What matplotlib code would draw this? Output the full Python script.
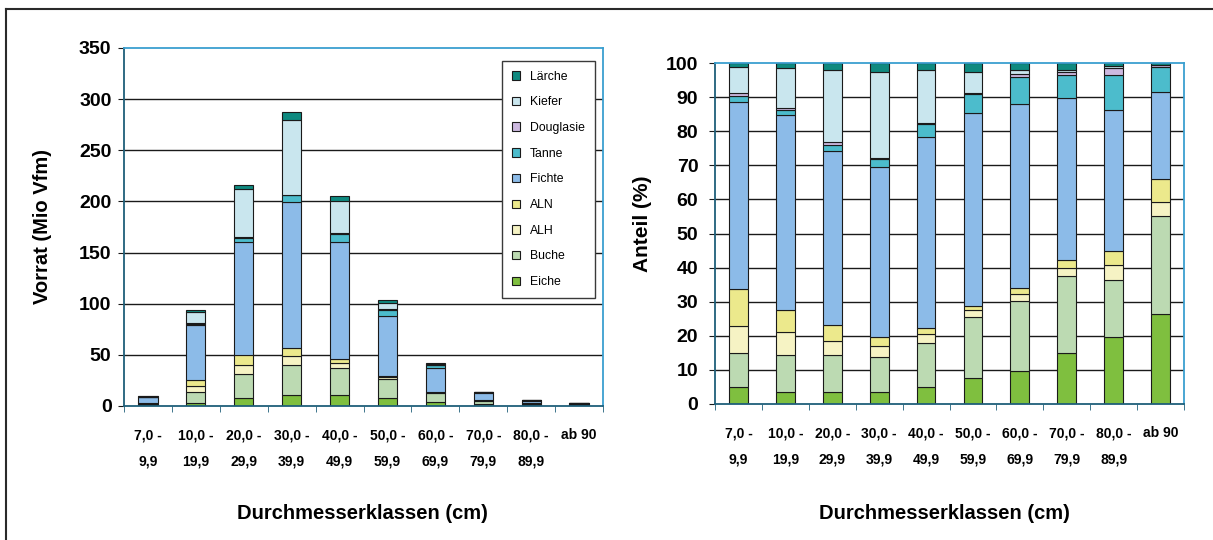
import matplotlib
matplotlib.use("Agg")
import matplotlib.pyplot as plt
import numpy as np
from matplotlib.lines import Line2D
from matplotlib.patches import Patch

plt.rcParams['font.family'] = ['Liberation Sans', 'DejaVu Sans']

# ---------------- data ----------------
categories = ["7,0 -\n9,9", "10,0 -\n19,9", "20,0 -\n29,9", "30,0 -\n39,9", "40,0 -\n49,9",
              "50,0 -\n59,9", "60,0 -\n69,9", "70,0 -\n79,9", "80,0 -\n89,9", "ab 90"]
species = ["Eiche", "Buche", "ALH", "ALN", "Fichte", "Tanne", "Douglasie", "Kiefer", "Lärche"]

# total stock per diameter class (Mio Vfm)
totals = [9.8, 93.5, 216, 287, 205, 103.6, 41.8, 14, 5.9, 3.0]

# share of each species per diameter class (%)
eiche     = [5.1, 3.6, 3.6, 3.6, 5.1, 7.6, 9.7, 14.9, 19.7, 26.3]
buche     = [9.8, 10.9, 10.9, 10.2, 12.8, 18.0, 20.5, 22.7, 16.7, 28.7]
alh       = [8.1, 6.5, 4.1, 3.1, 2.5, 1.9, 2.0, 2.4, 4.3, 4.2]
aln       = [10.6, 6.5, 4.5, 2.8, 1.9, 1.2, 1.7, 2.3, 4.2, 6.9]
fichte    = [55.1, 57.3, 51.0, 49.8, 56.1, 56.7, 54.1, 47.4, 41.3, 25.5]
tanne     = [1.5, 1.4, 1.8, 2.3, 3.6, 5.5, 7.8, 6.7, 10.2, 7.1]
douglasie = [1.0, 0.7, 0.8, 0.2, 0.3, 0.4, 1.0, 0.9, 2.1, 0.6]
kiefer    = [7.5, 11.6, 21.3, 25.3, 15.7, 6.0, 1.1, 0.7, 0.5, 0.2]
laerche   = [1.3, 1.5, 2.0, 2.7, 2.0, 2.7, 2.1, 2.0, 1.0, 0.5]

shares = [eiche, buche, alh, aln, fichte, tanne, douglasie, kiefer, laerche]
colors = ["#7fbf3f", "#bcdab2", "#f6f3c4", "#ece98c", "#8cbbe8",
          "#4cbccc", "#cdb9e0", "#c9e6ee", "#0f8a80"]

# ---------------- figure ----------------
W, H = 1213, 540
fig = plt.figure(figsize=(W / 100, H / 100), dpi=100)

def px_axes(x0, y0, x1, y1):
    return fig.add_axes([x0 / W, 1 - y1 / H, (x1 - x0) / W, (y1 - y0) / H])

axL = px_axes(124, 48, 603, 406)
axR = px_axes(715, 63, 1184, 404)

x = np.arange(len(categories))
bw = 0.40

def style_axes(ax, ylim, yticks, grid_vals):
    ax.set_xlim(-0.5, len(categories) - 0.5)
    ax.set_ylim(*ylim)
    for g in grid_vals:
        ax.axhline(g, color="#1a1a1a", lw=1.0, zorder=0.5)
    ax.set_yticks(yticks)
    ax.set_yticklabels([str(v) for v in yticks], fontsize=14, fontweight="bold")
    ax.set_xticks(np.arange(len(categories) + 1) - 0.5, minor=True)
    ax.set_xticks(x)
    ax.set_xticklabels(categories, fontsize=10, fontweight="bold", linespacing=2.15)
    ax.tick_params(axis="x", which="major", length=0, pad=16)
    ax.tick_params(axis="x", which="minor", length=4, color="#1f5f7a", direction="out")
    ax.tick_params(axis="y", length=4, color="#1a1a1a", direction="out", pad=5)
    ax.spines["left"].set_color("#1f5f7a")
    ax.spines["bottom"].set_color("#1f5f7a")
    ax.spines["top"].set_color("#3a9fd0")
    ax.spines["right"].set_color("#3a9fd0")
    for s in ax.spines.values():
        s.set_linewidth(1.3)

# left: absolute values
bottom = np.zeros(len(categories))
for sp, sh, c in zip(species, shares, colors):
    vals = np.array(totals) * np.array(sh) / 100.0
    axL.bar(x, vals, bw, bottom=bottom, color=c, edgecolor="#1a1a1a", linewidth=0.8, zorder=2, label=sp)
    bottom += vals

style_axes(axL, (0, 350), [0, 50, 100, 150, 200, 250, 300, 350], [50, 100, 150, 200, 250, 300])
axL.set_ylabel("Vorrat (Mio Vfm)", fontsize=14.5, fontweight="bold")
axL.yaxis.set_label_coords(-0.15, 0.5)
axL.set_xlabel("Durchmesserklassen (cm)", fontsize=14.5, fontweight="bold")
axL.xaxis.set_label_coords(0.497, -0.30)
axL.xaxis.label.set_va("center")

handles = [Patch(facecolor=c, edgecolor="#1a1a1a", linewidth=0.8) for c in colors][::-1]
leg = axL.legend(handles, species[::-1], loc="upper right", bbox_to_anchor=(0.983, 0.964),
                 fontsize=8.8, frameon=True, fancybox=False, framealpha=1, edgecolor="#3a3a3a",
                 handlelength=0.7, handleheight=0.7, handletextpad=0.8, labelspacing=1.12,
                 borderpad=0.8, borderaxespad=0)
leg.get_frame().set_linewidth(1.0)
leg.set_zorder(5)

# right: percentages
bottom = np.zeros(len(categories))
for sp, sh, c in zip(species, shares, colors):
    vals = np.array(sh, dtype=float)
    axR.bar(x, vals, bw, bottom=bottom, color=c, edgecolor="#1a1a1a", linewidth=0.8, zorder=2)
    bottom += vals

style_axes(axR, (0, 100), list(range(0, 101, 10)), list(range(10, 100, 10)))
axR.tick_params(axis="y", pad=8)
axR.set_ylabel("Anteil (%)", fontsize=15, fontweight="bold")
axR.yaxis.set_label_coords(-0.134, 0.53)
axR.set_xlabel("Durchmesserklassen (cm)", fontsize=14.5, fontweight="bold")
axR.xaxis.set_label_coords(0.49, -0.32)
axR.xaxis.label.set_va("center")

# outer frame (top and left edges visible)
fig.add_artist(Line2D([6 / W, 1.0], [1 - 9 / H, 1 - 9 / H], transform=fig.transFigure,
                      color="#2a2a2a", lw=1.5))
fig.add_artist(Line2D([6 / W, 6 / W], [0.0, 1 - 9 / H], transform=fig.transFigure,
                      color="#2a2a2a", lw=1.5))

fig.savefig("out.png", dpi=100)
